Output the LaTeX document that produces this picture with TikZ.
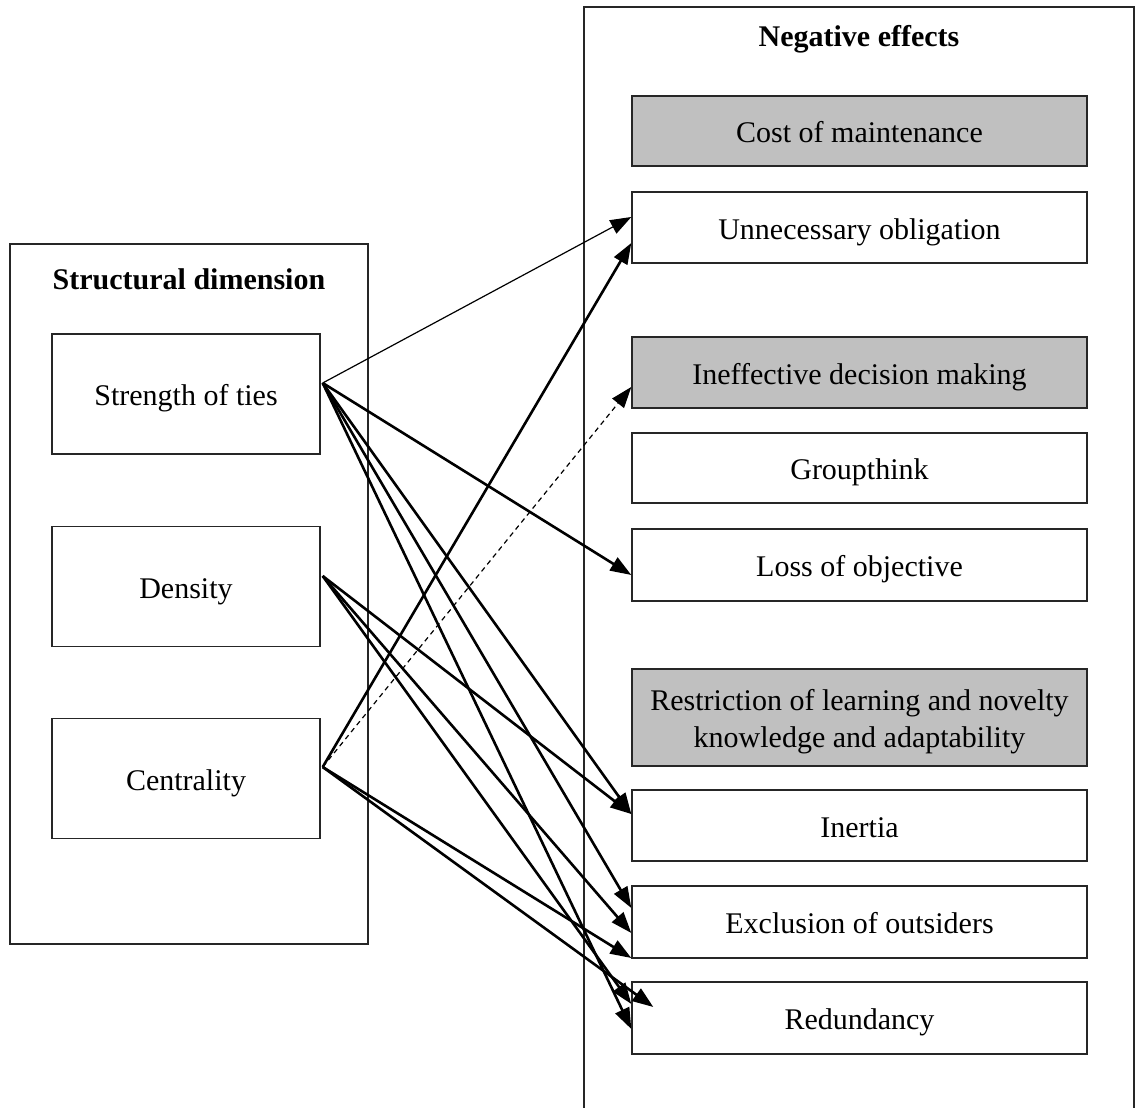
\documentclass[tikz,border=0pt]{standalone}
\usepackage{fontspec}
\setmainfont{Liberation Serif}
\usetikzlibrary{arrows.meta}
\definecolor{shade}{RGB}{192,192,192}
\begin{document}
\begin{tikzpicture}[x=1pt,y=-1pt,
  frame/.style={draw=black!85,line width=1.4pt},
  item/.style={draw=black!85,line width=1.4pt,rectangle,inner sep=0pt,
    align=center,font=\fontsize{30}{37}\selectfont,text height=27pt,text depth=4pt},
  effect/.style={item,minimum width=455pt},
  dim/.style={item,minimum width=268pt,minimum height=120pt},
  grey/.style={fill=shade},
  heading/.style={font=\fontsize{30}{37}\selectfont\bfseries,inner sep=0pt},
  tip/.style={-{Triangle[length=21pt,width=15pt]}},
  link/.style={line width=2.6pt,tip},
  thinlink/.style={line width=1.2pt,tip},
  dashlink/.style={line width=1.2pt,dash pattern=on 5pt off 4pt,tip}]
\useasboundingbox (0,0) rectangle (1136,1108);

% left frame: structural dimension
\node[frame,rectangle,minimum width=358pt,minimum height=700pt,inner sep=0pt] (leftframe) at (189,594) {};
\node[heading] (lefttitle) at (189,279) {Structural dimension};
\node[dim] (strength) at (186,394) {Strength of ties};
\node[dim] (density) at (186,586.5) {Density};
\node[dim] (central) at (186,778.5) {Centrality};

% right frame: negative effects (open at the bottom)
\draw[frame] (584,1110) -- (584,7) -- (1134,7) -- (1134,1110);
\node[heading] (righttitle) at (859,39) {Negative effects};
\node[effect,grey,minimum height=70pt] (cost) at (859.5,131) {Cost of maintenance};
\node[effect,minimum height=71pt] (unob) at (859.5,227.5) {Unnecessary obligation};
\node[effect,grey,minimum height=71pt] (ineff) at (859.5,372.5) {Ineffective decision making};
\node[effect,minimum height=70pt] (group) at (859.5,468) {Groupthink};
\node[effect,minimum height=72pt] (loss) at (859.5,565) {Loss of objective};
\node[effect,grey,minimum height=97pt,text height=67pt,text depth=6.6pt] (restr) at (859.5,717.5) {Restriction of learning and novelty\\knowledge and adaptability};
\node[effect,minimum height=71pt] (inertia) at (859.5,825.5) {Inertia};
\node[effect,minimum height=72pt] (excl) at (859.5,922) {Exclusion of outsiders};
\node[effect,minimum height=72pt] (redund) at (859.5,1018) {Redundancy};

% starting points of the connectors
\coordinate (s) at ([xshift=2pt,yshift=11pt]strength.east);
\coordinate (d) at ([xshift=2pt,yshift=10.5pt]density.east);
\coordinate (c) at ([xshift=2pt,yshift=11.5pt]central.east);

% connectors
\draw[thinlink] (s) -- ([yshift=10.5pt]unob.west);
\draw[link] (c) -- ([yshift=-15.5pt]unob.west);
\draw[dashlink] (c) -- ([yshift=-14.5pt]ineff.west);
\draw[link] (s) -- ([yshift=-10pt]loss.west);
\draw[link] (s) -- ([yshift=11.5pt]inertia.west);
\draw[link] (d) -- ([yshift=11.5pt]inertia.west);
\draw[link] (s) -- ([yshift=14pt]excl.west);
\draw[link] (d) -- ([yshift=-11pt]excl.west);
\draw[link] (c) -- ([yshift=-36pt]excl.west);
\draw[link] (d) -- ([yshift=14pt]redund.west);
\draw[link] (c) -- ([xshift=22pt,yshift=11pt]redund.west);
\draw[link] (s) -- ([yshift=-11pt]redund.west);
\end{tikzpicture}
\end{document}
